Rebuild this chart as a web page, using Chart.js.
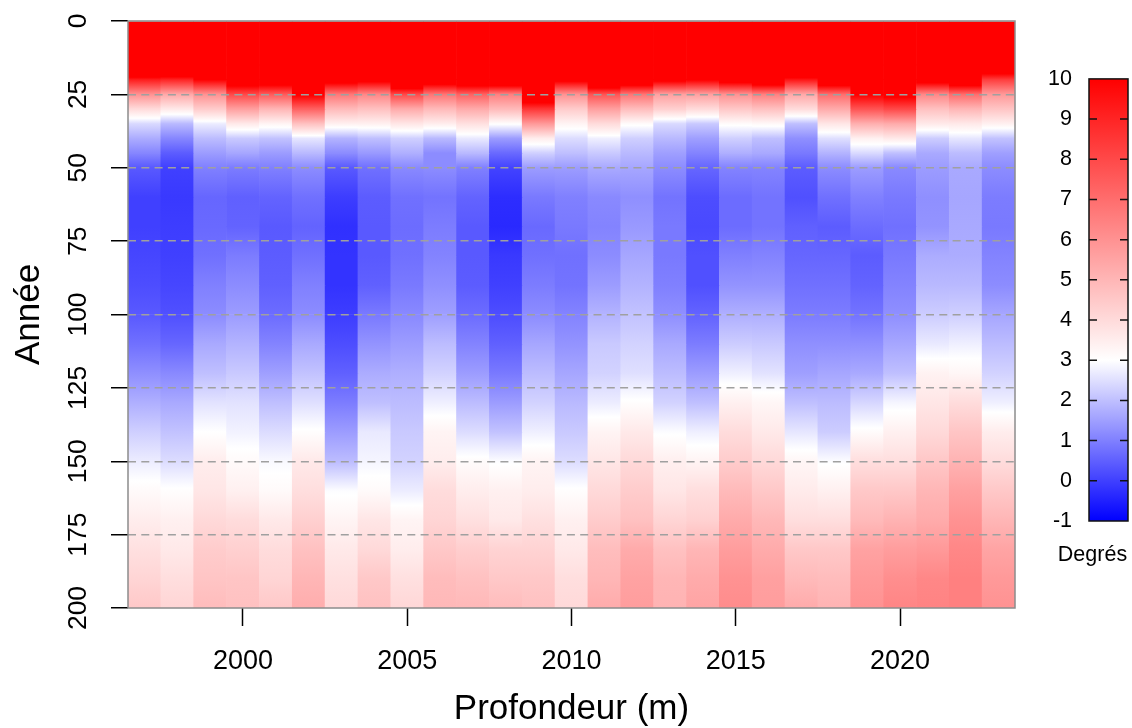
<!DOCTYPE html>
<html>
<head>
<meta charset="utf-8">
<title>Température</title>
<script src="https://cdn.jsdelivr.net/npm/chart.js@4/dist/chart.umd.min.js"></script>
<style>
    body { margin: 0; background: #fff; overflow: hidden; }
    #heat { position: absolute; left: 0; top: 0; }
    #scaleBar { position: absolute; left: 1032px; top: 57px; }
</style>
</head>
<body>
<canvas id="heat" width="1132" height="728"></canvas>
<canvas id="scaleBar" width="100" height="510"></canvas>
<script>
const years = ['1997','1998','1999','2000','2001','2002','2003','2004','2005','2006','2007','2008','2009','2010','2011','2012','2013','2014','2015','2016','2017','2018','2019','2020','2021','2022','2023'];
const depths = [0,15,20,25,30,35,40,45,50,60,70,80,90,100,110,120,130,140,150,160,170,180,190,200];
const depthTicks = ['0','25','50','75','100','125','150','175','200'];
const legendRange = [-1, 10];

// temperature per depth, one list per year
const t1997 = [16,14,9.2,6,4,2.4,1.7,1.1,.4,0,0,.1,.2,.4,.75,1.25,1.75,2.25,2.7,3.15,3.5,3.85,4.15,4.5];
const t1998 = [16,14,9,5.4,3.6,1.9,1.1,.45,0,-.1,-.05,0,.1,.25,.6,1.15,1.65,2.05,2.45,3.05,3.4,3.6,3.9,4.15];
const t1999 = [16,14,10,6,4.4,2.7,1.95,1.45,1,.6,.65,.75,1,1.2,1.65,2,2.55,3,3.5,3.7,4.05,4.4,4.6,4.85];
const t2000 = [16,14,11.5,8,5.6,3.6,2.15,1.6,.95,.5,.55,.95,1.2,1.45,1.8,2.15,2.55,2.8,3.15,3.4,3.95,4.3,4.6,4.7];
const t2001 = [16,14,11.5,7.5,5,3.3,2.05,1.45,1,.55,.4,.45,.5,.7,1.05,1.5,2,2.45,2.9,3.15,3.6,3.95,4.15,4.5];
const t2002 = [16,16,14,10.2,7.3,4.7,2.6,1.9,1.2,.75,.55,.75,1,1.2,1.65,2.05,2.5,3.05,3.6,3.9,4.3,4.7,5,5.25];
const t2003 = [16,14,11,6.7,4.9,3.4,1.8,1.2,.4,-.05,-.25,-.2,-.2,-.05,.2,.5,.95,1.45,1.95,2.95,3.3,3.6,3.85,4.05];
const t2004 = [16,14,10.6,6.3,4.7,3.4,2,1.4,.75,.45,.4,.4,.5,.9,1.3,1.7,2,2.65,2.85,3.15,3.7,4.05,4.5,4.7];
const t2005 = [16,16,13,8,5.3,3.7,2.25,1.75,1.15,.75,.7,.75,.9,1.15,1.45,1.75,1.95,2.15,2.3,2.7,3.3,3.5,3.85,4.1];
const t2006 = [16,14,11.5,6.8,4.9,3.5,1.9,1.2,1.2,.8,.95,1.05,1.25,1.5,1.95,2.3,2.75,3.3,3.5,3.95,4.15,4.5,4.85,4.95];
const t2007 = [16,14,12,7.3,5.3,3.85,2.65,1.9,1,.55,.4,.4,.45,.7,1.05,1.45,1.95,2.45,3.1,3.5,3.85,4.35,4.7,4.95];
const t2008 = [16,14,12.5,6.5,4.9,3.05,1.45,.65,.05,-.3,-.35,-.1,0,.2,.5,.9,1.45,2.05,2.95,3.4,3.6,4.2,4.5,4.85];
const t2009 = [16,16,16,12,8.5,5.8,3.5,2.25,1.45,.9,.65,.75,.95,1.2,1.6,1.95,2.3,2.75,3.3,3.5,3.85,4.2,4.5,4.7];
const t2010 = [16,14,10.5,6,4.4,3.3,2.45,2,1.45,1,.9,.75,.8,1.05,1.3,1.6,1.9,2.15,2.45,3.05,3.4,3.6,3.9,4.05];
const t2011 = [16,16,13,7.7,5.6,4,2.75,2.15,1.65,1.15,1.05,1.2,1.45,1.8,2.15,2.3,2.7,3.3,3.7,4.05,4.4,4.8,5,5.3];
const t2012 = [16,14,12,6.8,4.8,3.1,2.25,1.9,1.6,1.25,1.4,1.6,1.8,2.05,2.3,2.5,3.05,3.6,4.05,4.4,4.7,5.3,5.55,5.7];
const t2013 = [16,14,10.5,5.6,4.3,2.4,1.9,1.5,1.2,.8,.9,.9,1,1.25,1.65,1.95,2.3,2.95,3.45,3.7,4.15,4.7,5,5.1];
const t2014 = [16,14,10.1,5.6,4,2.15,1.5,1.05,.6,.2,.15,.25,.25,.55,.95,1.45,2,2.75,3.3,3.9,4.25,5,5.3,5.5];
const t2015 = [16,14,11,6,4.5,3.1,2.25,1.75,1.05,.7,.7,1,1.3,1.75,2.2,2.75,3.4,3.95,4.4,4.9,5.3,5.7,6,6.15];
const t2016 = [16,14,12,6.5,4.7,3.2,2,1.65,1.05,.8,.8,1.05,1.3,1.75,2.15,2.55,3.25,3.6,4.05,4.5,4.95,5.3,5.6,5.7];
const t2017 = [16,14,9.4,5.4,3.95,2,1.25,.9,.45,.25,.5,.6,.75,.95,1.25,1.5,2,2.6,3.25,3.55,3.9,4.5,4.9,5.3];
const t2018 = [16,14,12,7,5.3,3.7,2.5,1.8,1.2,.75,.45,.6,.75,.95,1.25,1.6,1.95,2.2,2.95,3.4,3.9,4.5,4.85,5.1];
const t2019 = [16,16,14,10.1,7.7,5.2,3.4,2.4,1.45,1,.7,.45,.55,.8,1.25,1.65,2.35,3.1,3.9,4.5,4.9,5.55,5.8,6];
const t2020 = [16,16,14,10.5,8,5.3,3.6,2,1.15,.9,.75,.9,1.05,1.25,1.6,2,2.85,3.4,3.9,4.5,5.1,5.7,6.1,6.35];
const t2021 = [16,14,11,6.3,4.7,3.6,2.2,1.65,1.45,1.25,1.3,1.7,1.9,2.2,2.65,3.35,3.7,4.05,4.55,5,5.3,5.8,6.3,6.4];
const t2022 = [16,14,12,7,5,3.6,2.6,1.95,1.65,1.6,1.65,1.7,1.9,2.25,2.75,3.25,3.95,4.6,5.1,5.6,6,6.3,6.5,6.5];
const t2023 = [16,12.5,8.3,5.8,4.6,3.4,2.05,1.5,1.2,.95,.9,1.05,1.2,1.6,1.95,2.3,2.75,3.5,3.95,4.5,5,5.5,5.8,6];
const profiles = [t1997,t1998,t1999,t2000,t2001,t2002,t2003,t2004,t2005,t2006,t2007,t2008,t2009,t2010,t2011,t2012,t2013,t2014,t2015,t2016,t2017,t2018,t2019,t2020,t2021,t2022,t2023];

Chart.defaults.font.family = '"Liberation Sans", Arial, sans-serif';
Chart.defaults.color = '#000';

// blue at -1, white at 3, red at 10
function tempColor(v)
{
    v = Math.max(-1, Math.min(10, v));
    if (v < 3) {
        const c = Math.round(255 * (v + 1) / 4);
        return 'rgb(' + c + ',' + c + ',255)';
    }
    const c = Math.round(255 * (10 - v) / 7);
    return 'rgb(255,' + c + ',' + c + ')';
}

function cellGradient(chart, yScale, top, bottom, vTop, vBottom)
{
    const y0 = yScale.getPixelForValue(top);
    const y1 = yScale.getPixelForValue(bottom);
    // the scale has no pixels yet on the first pass
    if (!isFinite(y0) || !isFinite(y1)) return tempColor(vTop);
    const grad = chart.ctx.createLinearGradient(0, y0, 0, y1);
    grad.addColorStop(0, tempColor(vTop));
    [3, 10].forEach(function (knee) {
        if ((vTop - knee) * (vBottom - knee) < 0) {
            grad.addColorStop((knee - vTop) / (vBottom - vTop), tempColor(knee));
        }
    });
    grad.addColorStop(1, tempColor(vBottom));
    return grad;
}

const layers = [];
for (let i = 0; i < depths.length - 1; i++) {
    layers.push({
        data: years.map(function () { return [depths[i], depths[i + 1]]; }),
        grouped: false,
        barPercentage: 1,
        categoryPercentage: 1,
        borderWidth: 0,
        backgroundColor: function (ctx) {
            const p = profiles[ctx.dataIndex];
            return cellGradient(ctx.chart, ctx.chart.scales.y, depths[i], depths[i + 1], p[i], p[i + 1]);
        }
    });
}

const heatFrame = {
    id: 'heatFrame',
    afterDraw: function (chart) {
        const c = chart.ctx;
        const a = chart.chartArea;
        const y = chart.scales.y;
        c.save();
        c.strokeStyle = '#8c8c8c';
        c.lineWidth = 1.5;
        c.strokeRect(a.left, a.top, a.right - a.left, a.bottom - a.top);
        c.fillStyle = '#000';
        c.font = '26.5px "Liberation Sans"';
        c.textAlign = 'center';
        c.textBaseline = 'middle';
        y.ticks.forEach(function (t) {
            c.save();
            c.translate(79, y.getPixelForValue(t.value));
            c.rotate(-Math.PI / 2);
            c.fillText(depthTicks[t.value / 25], 0, 0);
            c.restore();
        });
        c.restore();
    }
};

new Chart(document.getElementById('heat'), {
    type: 'bar',
    data: { labels: years, datasets: layers },
    plugins: [heatFrame],
    options: {
        responsive: false,
        animation: false,
        layout: { padding: { top: 21, right: 117 } },
        plugins: { legend: { display: false }, tooltip: { enabled: false } },
        scales: {
            x: {
                afterFit: function (axis) { axis.height = 120; },
                afterBuildTicks: function (axis) {
                    axis.ticks = axis.ticks.filter(function (t) { return Number(years[t.value]) % 5 === 0; });
                },
                border: { display: false },
                grid: { offset: false, drawOnChartArea: false, tickColor: '#000', tickLength: 18, tickWidth: 1.5 },
                ticks: { autoSkip: false, maxRotation: 0, padding: 19, font: { size: 27 } },
                title: { display: true, text: 'Profondeur (m)', font: { size: 35, lineHeight: 1 }, padding: { top: 0, bottom: 1 } }
            },
            y: {
                reverse: true,
                min: 0,
                max: 200,
                afterFit: function (axis) { axis.width = 128; },
                border: { display: false, dash: [8, 5.3] },
                grid: {
                    z: 1,
                    lineWidth: 1.5,
                    color: function (ctx) {
                        const v = ctx.tick.value;
                        return v === 0 || v === 200 ? 'rgba(0,0,0,0)' : '#a0a0a0';
                    },
                    tickColor: '#000',
                    tickLength: 17,
                    tickWidth: 1.5
                },
                ticks: { display: false, stepSize: 25 },
                title: { display: true, text: 'Année', font: { size: 35, lineHeight: 1 }, padding: { top: 12, bottom: 0 } }
            }
        }
    }
});

const barFrame = {
    id: 'barFrame',
    afterDraw: function (chart) {
        const c = chart.ctx;
        const a = chart.chartArea;
        const y = chart.scales.y;
        c.save();
        c.strokeStyle = '#111';
        c.lineWidth = 1.5;
        c.strokeRect(a.left, a.top, a.right - a.left, a.bottom - a.top);
        y.ticks.forEach(function (t) {
            if (t.value === legendRange[0] || t.value === legendRange[1]) return;
            const py = y.getPixelForValue(t.value);
            c.beginPath();
            c.moveTo(a.left, py);
            c.lineTo(a.left + 8, py);
            c.moveTo(a.right - 8, py);
            c.lineTo(a.right, py);
            c.stroke();
        });
        c.fillStyle = '#000';
        c.font = '21.5px "Liberation Sans"';
        c.textAlign = 'center';
        c.textBaseline = 'middle';
        c.fillText('Degrés', 60.5, 498);
        c.restore();
    }
};

new Chart(document.getElementById('scaleBar'), {
    type: 'bar',
    data: {
        labels: ['Degrés'],
        datasets: [{
            data: [legendRange],
            barPercentage: 1,
            categoryPercentage: 1,
            borderWidth: 0,
            backgroundColor: function (ctx) {
                return cellGradient(ctx.chart, ctx.chart.scales.y, legendRange[1], legendRange[0], legendRange[1], legendRange[0]);
            }
        }]
    },
    plugins: [barFrame],
    options: {
        responsive: false,
        animation: false,
        layout: { padding: { top: 4, right: 4, bottom: 46 } },
        plugins: { legend: { display: false }, tooltip: { enabled: false } },
        scales: {
            x: { display: false },
            y: {
                min: legendRange[0],
                max: legendRange[1],
                afterFit: function (axis) { axis.width = 57; },
                border: { display: false },
                grid: { display: false },
                ticks: { stepSize: 1, padding: 9, font: { size: 21.5 } }
            }
        }
    }
});
</script>
</body>
</html>
